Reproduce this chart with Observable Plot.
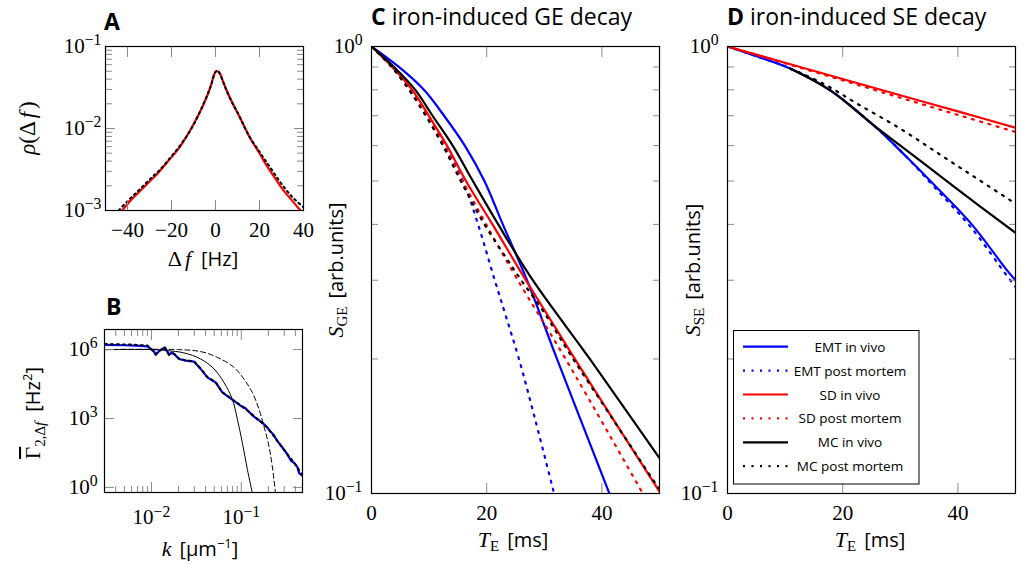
<!DOCTYPE html>
<html><head><meta charset="utf-8">
<script src="https://cdn.jsdelivr.net/npm/d3@7"></script>
<script src="https://cdn.jsdelivr.net/npm/@observablehq/plot@0.6"></script>
<style>
html,body{margin:0;padding:0;background:#fff;}
#root{position:relative;width:1026px;height:565px;overflow:hidden;background:#fff;}
#root svg.panel{position:absolute;}
#overlay{position:absolute;left:0;top:0;}
</style></head><body><div id="root"></div>
<script>
// ---------------- Panel A: frequency distribution ----------------
const aFreqFit = [-42.4,-38.6,-34.1,-29.5,-25.8,-22.0,-17.4,-12.9,-8.3,-5.3,-2.3,-0.8,0.3,1.8,3.8,6.8,9.85,12.9,15.9,19.7,23.5,27.3,31.0,34.8,38.6];
const aRhoFit  = [0.001,0.00132,0.00175,0.00232,0.00293,0.00388,0.0054,0.0082,0.0137,0.020,0.0319,0.0443,0.050,0.0477,0.0351,0.023,0.0158,0.0109,0.0075,0.00514,0.00344,0.00243,0.00175,0.00132,0.001];
const aFreqSim = [-44,-40,-35,-30,-25,-20,-15,-10,-5,-2,0,1,3,5,8,10,15,20,25,30,35,40];
const aRhoSim  = [0.001,0.0013,0.00175,0.00238,0.0032,0.0046,0.0068,0.0111,0.0213,0.034,0.049,0.0505,0.040,0.029,0.0195,0.0158,0.0083,0.0052,0.0033,0.00212,0.00145,0.0011];
const aXTicks = [-40,-20,0,20,40];

// ---------------- Panel B: correlation spectrum ----------------
const bKBlue = [0.00303,0.005,0.0075,0.00903,0.0105,0.01117,0.0125,0.01325,0.01406,0.0157,0.0168,0.01783,0.0203,0.0241,0.0297,0.0353,0.0419,0.0518,0.0615,0.0794,0.0982,0.11,0.1214,0.135,0.1506,0.17,0.1945,0.215,0.23,0.251,0.28,0.3245,0.36,0.3846,0.42,0.44,0.484];
const bGBlue = [1.6e6,1.55e6,1.45e6,1.39e6,9e5,5.9e5,9.5e5,1.07e6,1.25e6,5.9e5,7.5e5,6.5e5,3.9e5,3.3e5,3.0e5,1.44e5,6.2e4,3.7e4,1.36e4,6.6e3,3.6e3,2.9e3,1.96e3,1.3e3,942,680,405,250,190,106,62,27.9,14,12,7.8,4.2,3.1];
const bKSim = [0.00303,0.006,0.009,0.0112,0.0133,0.0141,0.0157,0.0178,0.0203,0.0241,0.0297,0.0353,0.0419,0.0518,0.0615,0.0794,0.0982,0.1214,0.1506,0.1945,0.251,0.3245,0.3846,0.484];
const bGSim = [1.75e6,1.65e6,1.5e6,6.5e5,1.1e6,1.25e6,6.2e5,6.6e5,4.0e5,3.4e5,3.1e5,1.5e5,6.4e4,3.8e4,1.4e4,6.8e3,3.7e3,2.0e3,960,410,108,28,12.5,3.2];
const bKGauss = [0.00303,0.0098,0.01507,0.023,0.0353,0.0497,0.0641,0.0794,0.0903,0.1026,0.1167,0.1325];
const bGGauss = [1e6,1e6,9.0e5,7.2e5,3.9e5,1.44e5,3.7e4,7.0e3,942,90,6.2,0.59];
const bKDash = [0.00303,0.02,0.0353,0.0541,0.0828,0.107,0.1325,0.157,0.178,0.2027,0.221,0.24];
const bGDash = [1e6,1e6,8.2e5,4.6e5,1.69e5,5.2e4,1.36e4,2.6e3,480,65,8.6,0.59];
const bXMajor = [0.01,0.1];
const bXMinor = [0.003,0.004,0.005,0.006,0.007,0.008,0.009,0.02,0.03,0.04,0.05,0.06,0.07,0.08,0.09,0.2,0.3,0.4];
const bYMajor = [1,1e3,1e6];

// ---------------- Panel C: GE decay ----------------
const geTE_EMTvivo = [0,4.75,9.1,12.6,16.2,19.6,22.8,27.0,32.2,41.3];
const geS_EMTvivo  = [1,0.9,0.8,0.7,0.6,0.5,0.4,0.3,0.2,0.1];
const geTE_EMTpm = [0,3.7,6.8,9.8,12.7,15.9,18.5,21.4,23.3,25.6,28.5,31.7];
const geS_EMTpm  = [1,0.9,0.8,0.7,0.6,0.5,0.4,0.3,0.25,0.2,0.145,0.1];
const geTE_SDvivo = [0,3.6,7.06,9.95,13.1,16.4,21.0,26.8,35.3,50];
const geS_SDvivo  = [1,0.9,0.8,0.7,0.6,0.5,0.4,0.3,0.2,0.101];
const geTE_SDpm = [0,3.5,6.6,9.67,12.6,15.8,19.9,25.4,33.7,47.1];
const geS_SDpm  = [1,0.9,0.8,0.7,0.6,0.5,0.4,0.3,0.2,0.1];
const geTE_MCvivo = [0,3.9,7.6,10.6,14.1,17.6,22.0,28.0,37.9,50];
const geS_MCvivo  = [1,0.9,0.8,0.7,0.6,0.5,0.4,0.3,0.2,0.12];
const geTE_MCpm = [0,3.5,6.5,9.4,12.4,15.5,19.6,23.3,26.0,29.7,35.0,42,49.8];
const geS_MCpm  = [1,0.9,0.8,0.7,0.6,0.5,0.4,0.338,0.3,0.257,0.2,0.146,0.103];

// ---------------- Panel D: SE decay ----------------
const seTE_EMTvivo = [0,4.6,10.95,17.9,25.4,31.1,35.7,42.4,48.5,50];
const seS_EMTvivo  = [1,0.955,0.892,0.797,0.666,0.566,0.493,0.40,0.316,0.30];
const seTE_EMTpm = [0,4.6,10.95,17.9,25.4,31.1,35.7,42.4,48.5,50];
const seS_EMTpm  = [1,0.955,0.892,0.797,0.666,0.566,0.488,0.392,0.307,0.29];
const seTE_SDvivo = [0,10,20,30,40,50];
const seS_SDvivo  = [1,0.92,0.846,0.778,0.716,0.658];
const seTE_SDpm = [0,10,20,30,40,50];
const seS_SDpm  = [1,0.917,0.84,0.768,0.703,0.644];
const seTE_MCvivo = [10.95,17.9,25.4,32.3,39.2,50];
const seS_MCvivo  = [0.892,0.797,0.666,0.57,0.487,0.383];
const seTE_MCpm = [10.95,16.7,22.5,30.0,36.9,43.25,50];
const seS_MCpm  = [0.892,0.825,0.745,0.655,0.573,0.507,0.445];

const teTicks = [0,20,40];
const sMinor = [0.2,0.3,0.4,0.5,0.6,0.7,0.8,0.9];
const seriesNames = ["EMT in vivo","EMT post mortem","SD in vivo","SD post mortem","MC in vivo","MC post mortem"];
const seriesColors = ["#0000ff","#0000ff","#ff0000","#ff0000","#000000","#000000"];
const seriesDotted = [false,true,false,true,false,true];

// ---------------- helpers ----------------
const TICK = "#8a8a8a";
const DOT = "2,6.5";
const zip = (xs, ys, kx, ky) => xs.map((v, i) => ({[kx]: v, [ky]: ys[i]}));
const root = document.getElementById("root");
const svgNS = "http://www.w3.org/2000/svg";

function supify(svg) {
  svg.querySelectorAll("text").forEach(t => {
    const s = t.textContent;
    if (s.includes("^")) {
      const [b, e] = s.split("^");
      t.textContent = b;
      const ts = document.createElementNS(svgNS, "tspan");
      ts.setAttribute("dy", "-0.5em");
      ts.setAttribute("font-size", "0.75em");
      ts.textContent = e;
      t.appendChild(ts);
    }
  });
}

function tickMarks(xMaj, xMin, yMaj, yMin) {
  const out = [];
  for (const anchor of ["bottom", "top"]) {
    out.push(Plot.axisX({anchor, ticks: xMaj, tickSize: -10, fill: "none", stroke: TICK, label: null}));
    if (xMin) out.push(Plot.axisX({anchor, ticks: xMin, tickSize: -6, fill: "none", stroke: TICK, label: null}));
  }
  for (const anchor of ["left", "right"]) {
    out.push(Plot.axisY({anchor, ticks: yMaj, tickSize: -10, fill: "none", stroke: TICK, label: null}));
    if (yMin) out.push(Plot.axisY({anchor, ticks: yMin, tickSize: -7, fill: "none", stroke: TICK, label: null}));
  }
  return out;
}

function panel({left, top, fw, fh, ml = 70, mr = 10, mt = 10, mb = 45, x, y, marks}) {
  const p = Plot.plot({
    width: ml + fw + mr, height: mt + fh + mb,
    marginLeft: ml, marginRight: mr, marginTop: mt, marginBottom: mb,
    x, y,
    style: {fontFamily: "'Liberation Serif', serif", fontSize: "21px", background: "transparent", overflow: "visible", maxWidth: "none"},
    marks
  });
  p.classList.add("panel");
  p.style.left = (left - ml) + "px";
  p.style.top = (top - mt) + "px";
  supify(p);
  root.appendChild(p);
}

const powLabel = d => "10^" + String(Math.round(Math.log10(d))).replace("-", "−");
const numLabel = d => String(d).replace("-", "−");

// ---------------- Panel A ----------------
panel({
  left: 105, top: 46, fw: 198, fh: 164,
  x: {domain: [-50, 40]},
  y: {type: "log", domain: [0.001, 0.1]},
  marks: [
    Plot.line(zip(aFreqFit, aRhoFit, "f", "r"), {x: "f", y: "r", stroke: "#ff0000", strokeWidth: 2.2, curve: "catmull-rom", clip: true}),
    Plot.line(zip(aFreqSim, aRhoSim, "f", "r"), {x: "f", y: "r", stroke: "#000", strokeWidth: 2, strokeDasharray: "2,3.5", curve: "catmull-rom", clip: true}),
    ...tickMarks(aXTicks, null, [0.001, 0.01, 0.1], [0.002,0.003,0.004,0.005,0.006,0.007,0.008,0.009,0.02,0.03,0.04,0.05,0.06,0.07,0.08,0.09]),
    Plot.axisX({anchor: "bottom", ticks: aXTicks, tickSize: 0, tickPadding: 12, tickFormat: numLabel, label: null}),
    Plot.axisY({anchor: "left", ticks: [0.001, 0.01, 0.1], tickSize: 0, tickPadding: 4, tickFormat: powLabel, label: null}),
    Plot.frame({stroke: "#000", strokeWidth: 1.2})
  ]
});

// ---------------- Panel B ----------------
panel({
  left: 104, top: 329, fw: 198, fh: 163,
  x: {type: "log", domain: [0.003, 0.48]},
  y: {type: "log", domain: [0.6, 7.5e6]},
  marks: [
    Plot.line(zip(bKBlue, bGBlue, "k", "g"), {x: "k", y: "g", stroke: "#0000ff", strokeWidth: 2.2, clip: true}),
    Plot.line(zip(bKSim, bGSim, "k", "g"), {x: "k", y: "g", stroke: "#000", strokeWidth: 2, strokeDasharray: "2,4", clip: true}),
    Plot.line(zip(bKGauss, bGGauss, "k", "g"), {x: "k", y: "g", stroke: "#000", strokeWidth: 1, curve: "catmull-rom", clip: true}),
    Plot.line(zip(bKDash, bGDash, "k", "g"), {x: "k", y: "g", stroke: "#000", strokeWidth: 1, strokeDasharray: "5,3", curve: "catmull-rom", clip: true}),
    ...tickMarks(bXMajor, bXMinor, bYMajor, null),
    Plot.axisX({anchor: "bottom", ticks: bXMajor, tickSize: 0, tickPadding: 17, tickFormat: powLabel, label: null}),
    Plot.axisY({anchor: "left", ticks: bYMajor, tickSize: 0, tickPadding: 7, tickFormat: powLabel, label: null}),
    Plot.frame({stroke: "#000", strokeWidth: 1.2})
  ]
});

// ---------------- Panels C and D ----------------
function decayPanel(left, tes, ss) {
  const lines = tes.map((te, i) => Plot.line(zip(te, ss[i], "t", "s"), {
    x: "t", y: "s", stroke: seriesColors[i], strokeWidth: 2.2,
    strokeDasharray: seriesDotted[i] ? DOT : null, curve: "catmull-rom", clip: true
  }));
  panel({
    left, top: 46, fw: 288, fh: 447,
    x: {domain: [0, 50]},
    y: {type: "log", domain: [0.1, 1]},
    marks: [
      ...lines,
      ...tickMarks(teTicks, null, [0.1, 1], sMinor),
      Plot.axisX({anchor: "bottom", ticks: teTicks, tickSize: 0, tickPadding: 12, tickFormat: numLabel, label: null}),
      Plot.axisY({anchor: "left", ticks: [0.1, 1], tickSize: 0, tickPadding: 9, tickFormat: powLabel, label: null}),
      Plot.frame({stroke: "#000", strokeWidth: 1.2})
    ]
  });
}
decayPanel(371,
  [geTE_EMTvivo, geTE_EMTpm, geTE_SDvivo, geTE_SDpm, geTE_MCvivo, geTE_MCpm],
  [geS_EMTvivo, geS_EMTpm, geS_SDvivo, geS_SDpm, geS_MCvivo, geS_MCpm]);
decayPanel(727,
  [seTE_EMTvivo, seTE_EMTpm, seTE_SDvivo, seTE_SDpm, seTE_MCvivo, seTE_MCpm],
  [seS_EMTvivo, seS_EMTpm, seS_SDvivo, seS_SDpm, seS_MCvivo, seS_MCpm]);

// ---------------- Overlay: titles, axis labels, legend ----------------
const SERIF = "'Liberation Serif', serif";
const SANS = "'Open Sans', sans-serif";
const legendRows = seriesNames.map((name, i) => {
  const yy = 346.7 + i * 23.9;
  return `<line x1="743" x2="788" y1="${yy}" y2="${yy}" stroke="${seriesColors[i]}" stroke-width="2.2" ${seriesDotted[i] ? `stroke-dasharray="${DOT}"` : ""}/>
  <text x="850" y="${yy + 5}" text-anchor="middle" font-family="${SANS}" font-size="13.5">${name}</text>`;
}).join("");

const overlay = `
<svg id="overlay" xmlns="${svgNS}" width="1026" height="565">
  <g font-family="${SANS}" font-size="23" fill="#000">
    <text x="104" y="30" font-weight="bold">A</text>
    <text x="106" y="315" font-weight="bold">B</text>
    <text x="371" y="25"><tspan font-weight="bold">C</tspan> iron-induced GE decay</text>
    <text x="727" y="25"><tspan font-weight="bold">D</tspan> iron-induced SE decay</text>
  </g>
  <text x="203" y="266" text-anchor="middle"><tspan font-family="${SERIF}" font-size="22">Δ</tspan><tspan font-family="${SERIF}" font-size="22" font-style="italic" dx="3">f</tspan><tspan font-family="${SANS}" font-size="20" dx="10">[Hz]</tspan></text>
  <text transform="translate(35,128) rotate(-90)" text-anchor="middle"><tspan font-family="${SERIF}" font-size="23" font-style="italic">ρ</tspan><tspan font-family="${SERIF}" font-size="23">(Δ</tspan><tspan font-family="${SERIF}" font-size="23" font-style="italic" dx="3">f</tspan><tspan font-family="${SERIF}" font-size="23" dx="3">)</tspan></text>
  <text x="200" y="556" text-anchor="middle"><tspan font-family="${SERIF}" font-size="22" font-style="italic">k</tspan><tspan font-family="${SANS}" font-size="20" dx="8">[μm</tspan><tspan font-family="${SANS}" font-size="13" dy="-8">−1</tspan><tspan font-family="${SANS}" font-size="20" dy="8">]</tspan></text>
  <text transform="translate(40,413) rotate(-90)" text-anchor="middle"><tspan font-family="${SERIF}" font-size="21" style="text-decoration: overline">Γ</tspan><tspan font-family="${SERIF}" font-size="15" dy="5">2,Δ</tspan><tspan font-family="${SERIF}" font-size="15" font-style="italic">f</tspan><tspan font-family="${SANS}" font-size="20" dy="-5" dx="10">[Hz</tspan><tspan font-family="${SANS}" font-size="13" dy="-8">2</tspan><tspan font-family="${SANS}" font-size="20" dy="8">]</tspan></text>
  <text x="513" y="547" text-anchor="middle"><tspan font-family="${SERIF}" font-size="22" font-style="italic">T</tspan><tspan font-family="${SERIF}" font-size="15" dy="4">E</tspan><tspan font-family="${SANS}" font-size="20" dy="-4" dx="8">[ms]</tspan></text>
  <text x="870" y="547" text-anchor="middle"><tspan font-family="${SERIF}" font-size="22" font-style="italic">T</tspan><tspan font-family="${SERIF}" font-size="15" dy="4">E</tspan><tspan font-family="${SANS}" font-size="20" dy="-4" dx="8">[ms]</tspan></text>
  <text transform="translate(343,270) rotate(-90)" text-anchor="middle"><tspan font-family="${SERIF}" font-size="22" font-style="italic">S</tspan><tspan font-family="${SERIF}" font-size="15" dy="4">GE</tspan><tspan font-family="${SANS}" font-size="20" dy="-4" dx="8">[arb.units]</tspan></text>
  <text transform="translate(700,270) rotate(-90)" text-anchor="middle"><tspan font-family="${SERIF}" font-size="22" font-style="italic">S</tspan><tspan font-family="${SERIF}" font-size="15" dy="4">SE</tspan><tspan font-family="${SANS}" font-size="20" dy="-4" dx="8">[arb.units]</tspan></text>
  <rect x="733.5" y="330.5" width="185.5" height="153.5" fill="#fff" stroke="#000" stroke-width="1"/>
  ${legendRows}
</svg>`;
root.insertAdjacentHTML("beforeend", overlay);
</script></body></html>
